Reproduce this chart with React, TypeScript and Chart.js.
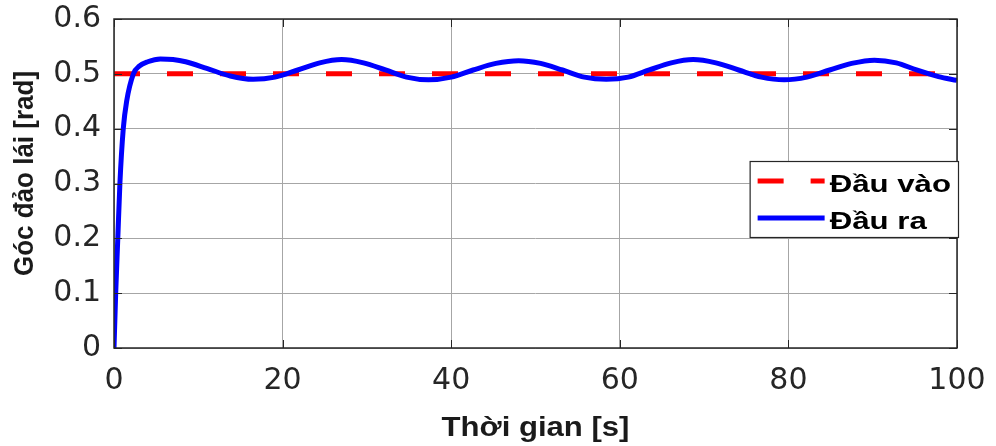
import React, { useEffect, useRef } from "react";
import { Chart, registerables } from "chart.js";

Chart.register(...registerables);

// ---- data ----
const timeS = [
  0, 0.2, 0.45, 0.7, 1.1, 1.5, 2.3, 3, 4, 5.5, 7, 8.5, 11, 13.8, 16.5, 19.1, 21.8,
  24.4, 27, 29.6, 32.2, 34.7, 37.3, 40, 42.6, 45.3, 48, 50.6, 53.2, 55.8, 58.4, 61,
  63.5, 66.1, 68.7, 71.4, 74.1, 76.8, 79.5, 82.2, 84.9, 87.5, 90.2, 92.8, 95.2, 97.8, 100,
];
const outputRad = [
  0, 0.1, 0.2, 0.3, 0.4, 0.45, 0.5, 0.514, 0.522, 0.527, 0.526, 0.522, 0.51, 0.496,
  0.49, 0.494, 0.507, 0.52, 0.526, 0.52, 0.507, 0.494, 0.489, 0.494, 0.507, 0.519,
  0.524, 0.519, 0.507, 0.494, 0.49, 0.494, 0.507, 0.52, 0.526, 0.52, 0.507, 0.494,
  0.489, 0.494, 0.507, 0.519, 0.525, 0.52, 0.507, 0.495, 0.488,
];
const inputTime = [0, 100];
const inputRad = [0.5, 0.5];
const xTicks = [0, 20, 40, 60, 80, 100];
const yTicks = [0, 0.1, 0.2, 0.3, 0.4, 0.5, 0.6];
const xTickLabels = ["0", "20", "40", "60", "80", "100"];
const yTickLabels = ["0", "0.1", "0.2", "0.3", "0.4", "0.5", "0.6"];
const seriesLabels = ["Đầu vào", "Đầu ra"];
const xTitle = "Thời gian [s]";
const yTitle = "Góc đảo lái [rad]";

const FONT = "'Liberation Sans', Arial, Helvetica, sans-serif";
const TICK_FONT = "'DejaVu Sans', 'Liberation Sans', sans-serif";
const DARK = "#262626";

const zeroPad = (s: any) => {
  s.paddingTop = 0;
  s.paddingBottom = 0;
  s.paddingLeft = 0;
  s.paddingRight = 0;
};

const framePlugin = {
  id: "matlabFrame",
  afterDatasetsDraw(chart: any) {
    const { ctx, chartArea: a, scales } = chart;
    ctx.save();
    // inner tick marks
    ctx.strokeStyle = DARK;
    ctx.lineWidth = 1;
    const tl = 8;
    ctx.beginPath();
    for (const v of xTicks) {
      const x = Math.round(scales.x.getPixelForValue(v)) + 0.5;
      ctx.moveTo(x, a.bottom);
      ctx.lineTo(x, a.bottom - tl);
      ctx.moveTo(x, a.top);
      ctx.lineTo(x, a.top + tl);
    }
    for (const v of yTicks) {
      const y = Math.round(scales.y.getPixelForValue(v)) + 0.5;
      ctx.moveTo(a.left, y);
      ctx.lineTo(a.left + tl, y);
      ctx.moveTo(a.right, y);
      ctx.lineTo(a.right - tl, y);
    }
    ctx.stroke();
    // box
    ctx.lineWidth = 1.5;
    ctx.strokeRect(a.left, a.top, a.right - a.left, a.bottom - a.top);

    // axis titles
    ctx.fillStyle = "#1a1a1a";
    ctx.font = `bold 28px ${FONT}`;
    ctx.textAlign = "center";
    ctx.textBaseline = "alphabetic";
    ctx.save();
    ctx.translate((a.left + a.right) / 2, 436);
    ctx.scale(1.11, 1);
    ctx.fillText(xTitle, 0, 0);
    ctx.restore();

    ctx.font = `bold 26px ${FONT}`;
    ctx.save();
    ctx.translate(33, 173.5);
    ctx.scale(1.08, 1);
    ctx.rotate(-Math.PI / 2);
    ctx.fillText(yTitle, 0, 0);
    ctx.restore();

    // legend
    const ds = chart.data.datasets;
    const stretch = 1.3;
    ctx.font = `bold 24px ${FONT}`;
    let maxW = 0;
    for (const d of ds) maxW = Math.max(maxW, ctx.measureText(d.label).width * stretch);
    const lineLen = 67;
    const boxW = 8 + lineLen + 5 + maxW + 7;
    const boxH = 76;
    const right = a.right + 1;
    const left = right - boxW;
    const top = a.top + 142;
    ctx.fillStyle = "#ffffff";
    ctx.fillRect(left, top, boxW, boxH);
    ctx.lineWidth = 1.2;
    ctx.strokeStyle = DARK;
    ctx.strokeRect(left + 0.5, top + 0.5, boxW, boxH);
    const lineRows = [top + 20, top + 57];
    const textRows = [top + 31, top + 68];
    [0, 1].forEach((idx, r) => {
      const d = ds[idx];
      const y = lineRows[r];
      ctx.beginPath();
      ctx.strokeStyle = d.borderColor;
      ctx.lineWidth = d.borderWidth;
      ctx.setLineDash(d.borderDash || []);
      ctx.moveTo(left + 8, y);
      ctx.lineTo(left + 8 + lineLen, y);
      ctx.stroke();
      ctx.setLineDash([]);
      ctx.fillStyle = "#000000";
      ctx.textAlign = "left";
      ctx.textBaseline = "alphabetic";
      ctx.save();
      ctx.translate(left + 8 + lineLen + 5, textRows[r]);
      ctx.scale(stretch, 1);
      ctx.fillText(d.label, 0, 0);
      ctx.restore();
    });
    ctx.restore();
  },
};

export default function App() {
  const ref = useRef<HTMLCanvasElement | null>(null);

  useEffect(() => {
    const canvas = ref.current;
    if (!canvas) return;
    const chart = new Chart(canvas, {
      type: "line",
      data: {
        datasets: [
          {
            label: seriesLabels[0],
            data: inputTime.map((t, i) => ({ x: t, y: inputRad[i] })),
            borderColor: "#ff0000",
            borderWidth: 5,
            borderDash: [26, 27],
            pointRadius: 0,
            fill: false,
            order: 2,
          },
          {
            label: seriesLabels[1],
            data: timeS.map((t, i) => ({ x: t, y: outputRad[i] })),
            borderColor: "#0000ff",
            borderWidth: 5,
            pointRadius: 0,
            fill: false,
            cubicInterpolationMode: "monotone",
            order: 1,
          },
        ],
      },
      options: {
        responsive: false,
        animation: false,
        layout: { padding: { top: 19, right: 39, left: 0, bottom: 0 } },
        plugins: { legend: { display: false }, tooltip: { enabled: false } },
        scales: {
          x: {
            type: "linear",
            min: 0,
            max: 100,
            afterBuildTicks: (s: any) => {
              s.ticks = xTicks.map((v) => ({ value: v }));
            },
            afterFit: (s: any) => {
              s.height = 98;
              zeroPad(s);
            },
            ticks: {
              callback: (v: any) => xTickLabels[xTicks.indexOf(Number(v))] ?? String(v),
              font: { family: TICK_FONT, size: 30 },
              color: DARK,
              padding: 15,
              maxRotation: 0,
            },
            grid: { color: "#a6a6a6", lineWidth: 1, drawTicks: false },
            border: { display: false },
            title: { display: false, text: xTitle },
          },
          y: {
            type: "linear",
            min: 0,
            max: 0.6,
            afterBuildTicks: (s: any) => {
              s.ticks = yTicks.map((v) => ({ value: v }));
            },
            afterFit: (s: any) => {
              s.width = 114;
              zeroPad(s);
            },
            ticks: {
              callback: (v: any) => yTickLabels[yTicks.indexOf(Number(v))] ?? String(v),
              font: { family: TICK_FONT, size: 30 },
              color: DARK,
              padding: 13,
            },
            grid: { color: "#a6a6a6", lineWidth: 1, drawTicks: false },
            border: { display: false },
            title: { display: false, text: yTitle },
          },
        },
      },
      plugins: [framePlugin],
    } as any);
    return () => chart.destroy();
  }, []);

  return (
    <div style={{ position: "fixed", left: 0, top: 0, width: 996, height: 446, background: "#fff" }}>
      <canvas ref={ref} width={996} height={446} style={{ display: "block" }} />
    </div>
  );
}
